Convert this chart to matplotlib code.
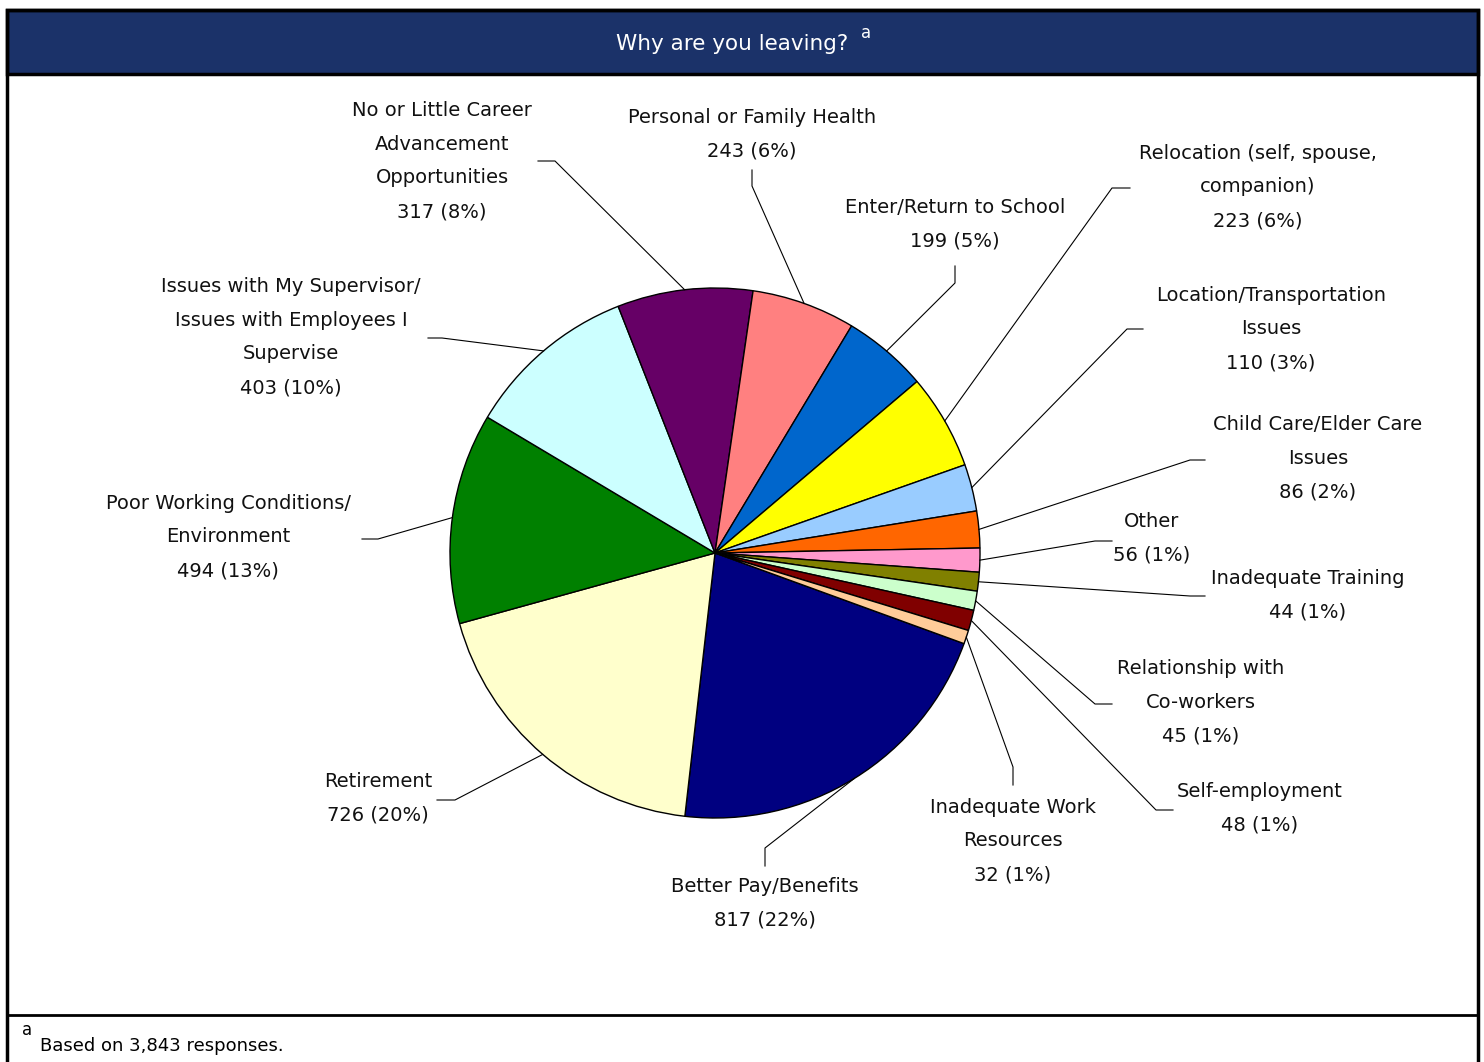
import numpy as np
import matplotlib.pyplot as plt
from matplotlib.patches import Rectangle

# data (clockwise order as drawn)
reasons = ["Better Pay/Benefits", "Retirement", "Poor Working Conditions/\nEnvironment",
           "Issues with My Supervisor/\nIssues with Employees I\nSupervise",
           "No or Little Career\nAdvancement\nOpportunities", "Personal or Family Health",
           "Enter/Return to School", "Relocation (self, spouse,\ncompanion)",
           "Location/Transportation\nIssues", "Child Care/Elder Care\nIssues", "Other",
           "Inadequate Training", "Relationship with\nCo-workers", "Self-employment",
           "Inadequate Work\nResources"]
counts = [817, 726, 494, 403, 317, 243, 199, 223, 110, 86, 56, 44, 45, 48, 32]
pcts = [22, 20, 13, 10, 8, 6, 5, 6, 3, 2, 1, 1, 1, 1, 1]
colors = ["#000080", "#FFFFCC", "#008000", "#CCFFFF", "#660066", "#FF8080", "#0066CC",
          "#FFFF00", "#99CCFF", "#FF6600", "#FF99CC", "#808000", "#CCFFCC", "#800000",
          "#FFCC99"]

# label layout in pixel coords (y down): text centre, elbow, tail end
label_pos = [(765, 903), (378, 798), (228, 537), (291, 337), (442, 161), (752, 134),
             (955, 224), (1258, 187), (1271, 329), (1318, 458), (1152, 538), (1308, 595),
             (1201, 702), (1260, 808), (1013, 841)]
elbows = [(765, 848), (455, 800), (378, 539), (442, 338), (555, 161), (752, 186),
          (955, 283), (1112, 188), (1127, 329), (1190, 460), (1095, 541), (1190, 596),
          (1095, 704), (1156, 810), (1013, 767)]
tails = [(765, 866), (437, 800), (362, 539), (428, 338), (538, 161), (752, 170),
         (955, 266), (1130, 188), (1143, 329), (1205, 460), (1112, 541), (1205, 596),
         (1112, 704), (1173, 810), (1013, 785)]

W, H = 1484, 1062
fig = plt.figure(figsize=(W / 100, H / 100), dpi=100)
ax = fig.add_axes([0, 0, 1, 1])
ax.set_xlim(0, W)
ax.set_ylim(0, H)
ax.set_aspect('equal')
ax.axis('off')


def Y(y):
    return H - y


cx, cy, r = 715, Y(553), 265
wedges, _ = ax.pie(counts, colors=colors, startangle=-20, counterclock=False,
                   center=(cx, cy), radius=r, frame=True,
                   wedgeprops=dict(edgecolor='black', linewidth=1.0))
ax.set_xlim(0, W)
ax.set_ylim(0, H)
ax.axis('off')

font = 'DejaVu Sans'
for i, w in enumerate(wedges):
    mid = np.deg2rad((w.theta1 + w.theta2) / 2)
    px, py = cx + r * np.cos(mid), cy + r * np.sin(mid)
    ex, ey = elbows[i]
    tx, ty = tails[i]
    ax.plot([px, ex, tx], [py, Y(ey), Y(ty)], color='black', lw=0.8)
    lx, ly = label_pos[i]
    ax.text(lx, Y(ly), f"{reasons[i]}\n{counts[i]} ({pcts[i]}%)", ha='center', va='center',
            fontsize=14, family=font, linespacing=1.98, color='#111111')

# header band and frame
ax.add_patch(Rectangle((7, Y(74)), 1471, 64, facecolor='#1B3269', edgecolor='black', lw=2.5))
ax.add_patch(Rectangle((7, Y(1070)), 1471, 1060, facecolor='none', edgecolor='black', lw=2.5))
ax.plot([7, 1478], [Y(1015), Y(1015)], color='black', lw=2)
ax.text(732, Y(44), "Why are you leaving?", color='white', ha='center', va='center',
        fontsize=15.5, family=font)
ax.text(866, Y(33), "a", color='white', ha='center', va='center', fontsize=12, family=font)

ax.text(27, Y(1030), "a", ha='center', va='center', fontsize=12, family=font)
ax.text(40, Y(1046), "Based on 3,843 responses.", ha='left', va='center', fontsize=13,
        family=font)

fig.savefig('out.png', dpi=100)
